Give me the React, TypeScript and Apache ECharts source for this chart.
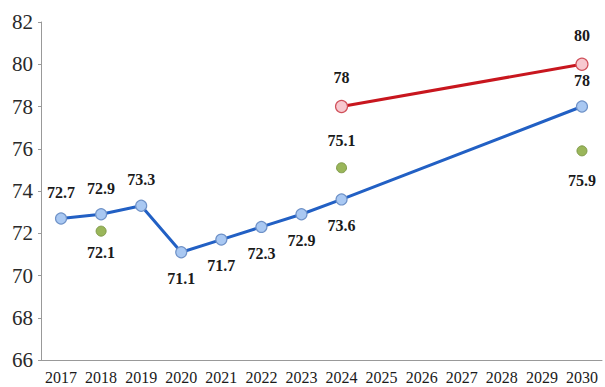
import React, { useEffect, useRef } from "react";
import * as echarts from "echarts";

const years = ["2017", "2018", "2019", "2020", "2021", "2022", "2023", "2024", "2025", "2026", "2027", "2028", "2029", "2030"];
const actual: (number | null)[] = [72.7, 72.9, 73.3, 71.1, 71.7, 72.3, 72.9, 73.6, null, null, null, null, null, 78];
const actualLabelPos = ["top", "top", "top", "bottom", "bottom", "bottom", "bottom", "bottom", "top", "top", "top", "top", "top", "top"];
const target: (number | null)[] = [null, null, null, null, null, null, null, 78, null, null, null, null, null, 80];
const other: (number | null)[] = [null, 72.1, null, null, null, null, null, 75.1, null, null, null, null, null, 75.9];
const otherLabelPos = ["bottom", "bottom", "top", "top", "top", "top", "top", "top", "top", "top", "top", "top", "top", "bottom"];
const otherLabelDist = [10, 8, 10, 10, 10, 10, 10, 14, 10, 10, 10, 10, 10, 16];

const labelFont = {
  fontFamily: "Liberation Serif",
  fontWeight: "bold" as const,
  fontSize: 16,
  color: "#1a1a1a",
};

export default function App() {
  const ref = useRef<HTMLDivElement>(null);
  useEffect(() => {
    const chart = echarts.init(ref.current!, null, { renderer: "svg" });
    chart.setOption({
      animation: false,
      backgroundColor: "#ffffff",
      grid: { left: 41, right: 3, top: 22, bottom: 27 },
      xAxis: {
        type: "category",
        data: years,
        boundaryGap: true,
        axisLine: { lineStyle: { color: "#999999", width: 1 } },
        axisTick: { inside: true, length: 3, lineStyle: { color: "#999999" } },
        axisLabel: { fontFamily: "Liberation Serif", fontSize: 16, color: "#1a1a1a", margin: 9, interval: 0 },
        splitLine: { show: false },
      },
      yAxis: {
        type: "value",
        min: 66,
        max: 82,
        interval: 2,
        axisLine: { show: true, lineStyle: { color: "#999999", width: 1 } },
        axisTick: { show: true, length: 3, lineStyle: { color: "#999999" } },
        axisLabel: { fontFamily: "Liberation Serif", fontSize: 21, color: "#2a2a2a", margin: 8 },
        splitLine: { show: false },
      },
      series: [
        {
          type: "line",
          data: actual.map((v, i) => ({
            value: v,
            label: { show: true, position: actualLabelPos[i], distance: 12, ...labelFont },
          })),
          connectNulls: true,
          symbol: "circle",
          symbolSize: 11,
          lineStyle: { color: "#2260c4", width: 3 },
          itemStyle: { color: "#a9c8f2", borderColor: "#6f92c8", borderWidth: 1.2 },
          label: { show: true, distance: 12, ...labelFont },
          z: 3,
        },
        {
          type: "line",
          data: target,
          connectNulls: true,
          symbol: "circle",
          symbolSize: 12,
          lineStyle: { color: "#c8161e", width: 3 },
          itemStyle: { color: "#f7c8cf", borderColor: "#d0505a", borderWidth: 1.2 },
          label: { show: true, position: "top", distance: 14, ...labelFont },
          z: 3,
        },
        {
          type: "line",
          data: other.map((v, i) => ({
            value: v,
            label: { show: true, position: otherLabelPos[i], distance: otherLabelDist[i], ...labelFont },
          })),
          connectNulls: false,
          showAllSymbol: true,
          symbol: "circle",
          symbolSize: 10,
          lineStyle: { width: 0, opacity: 0 },
          itemStyle: { color: "#9ab65a", borderColor: "#7f9a48", borderWidth: 1 },
          label: { show: true, ...labelFont },
          z: 2,
        },
      ],
    });
    return () => chart.dispose();
  }, []);
  return <div ref={ref} style={{ width: 605, height: 387, position: "absolute", left: 0, top: 0 }} />;
}
